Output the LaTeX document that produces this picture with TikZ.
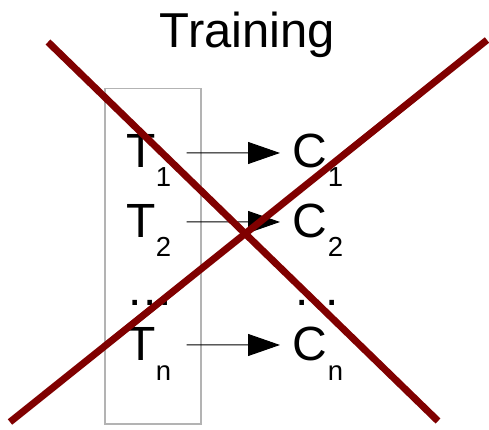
\documentclass[tikz,border=0pt]{standalone}
\usepackage{fontspec}
\setmainfont{Liberation Sans}
\usetikzlibrary{arrows.meta}
\begin{document}
\begin{tikzpicture}[x=1pt,y=-1pt,
  big/.style={inner sep=0pt,anchor=base west,font=\fontsize{48}{48}\selectfont},
  sub/.style={inner sep=0pt,anchor=base west,font=\fontsize{27.5}{27.5}\selectfont},
  arr/.style={line width=1pt,-{Triangle[length=32pt,width=22pt]}},
  cross/.style={line width=7pt,color={rgb,255:red,128;green,0;blue,0}}]
\useasboundingbox (0,0) rectangle (489,429);
\node[inner sep=0pt,anchor=base,font=\fontsize{49}{49}\selectfont] (title) at (247.5,47.5) {Training};
\draw[line width=1.2pt,color={rgb,255:red,179;green,179;blue,179}] (105,88.5) rectangle (201,424);
% rows
\node[big] (t1) at (126,167) {T};
\node[sub] (t1s) at (t1.base east) [yshift=-19pt] {1};
\node[big] (c1) at (292.5,167) {C};
\node[sub] (c1s) at (c1.base east) [yshift=-19pt] {1};
\node[big] (t2) at (126,237) {T};
\node[sub] (t2s) at (t2.base east) [yshift=-19pt] {2};
\node[big] (c2) at (292.5,237) {C};
\node[sub] (c2s) at (c2.base east) [yshift=-19pt] {2};
\node[big] (ld) at (128.5,305) {.\kern1.8pt.\kern1.8pt.};
\node[big] (rd) at (295.5,305) {.\kern1.8pt.\kern1.8pt.};
\node[big] (tn) at (126,360) {T};
\node[sub] (tns) at (tn.base east) [yshift=-20pt] {n};
\node[big] (cn) at (292.5,360) {C};
\node[sub] (cns) at (cn.base east) [yshift=-20pt] {n};
\draw[arr] ([xshift=31pt,yshift=-2.5pt]t1.east) -- ([xshift=-12.5pt,yshift=-2.5pt]c1.west);
\draw[arr] ([xshift=31pt,yshift=-1.5pt]t2.east) -- ([xshift=-12.5pt,yshift=-1.5pt]c2.west);
\draw[arr] ([xshift=31pt,yshift=-1.5pt]tn.east) -- ([xshift=-12.5pt,yshift=-1.5pt]cn.west);
% cross
\coordinate (a1) at (48,42);
\coordinate (a2) at (438,421);
\coordinate (b1) at (10,422);
\coordinate (b2) at (487,40);
\draw[cross] (a1) -- (a2);
\draw[cross] (b1) -- (b2);
\end{tikzpicture}
\end{document}
